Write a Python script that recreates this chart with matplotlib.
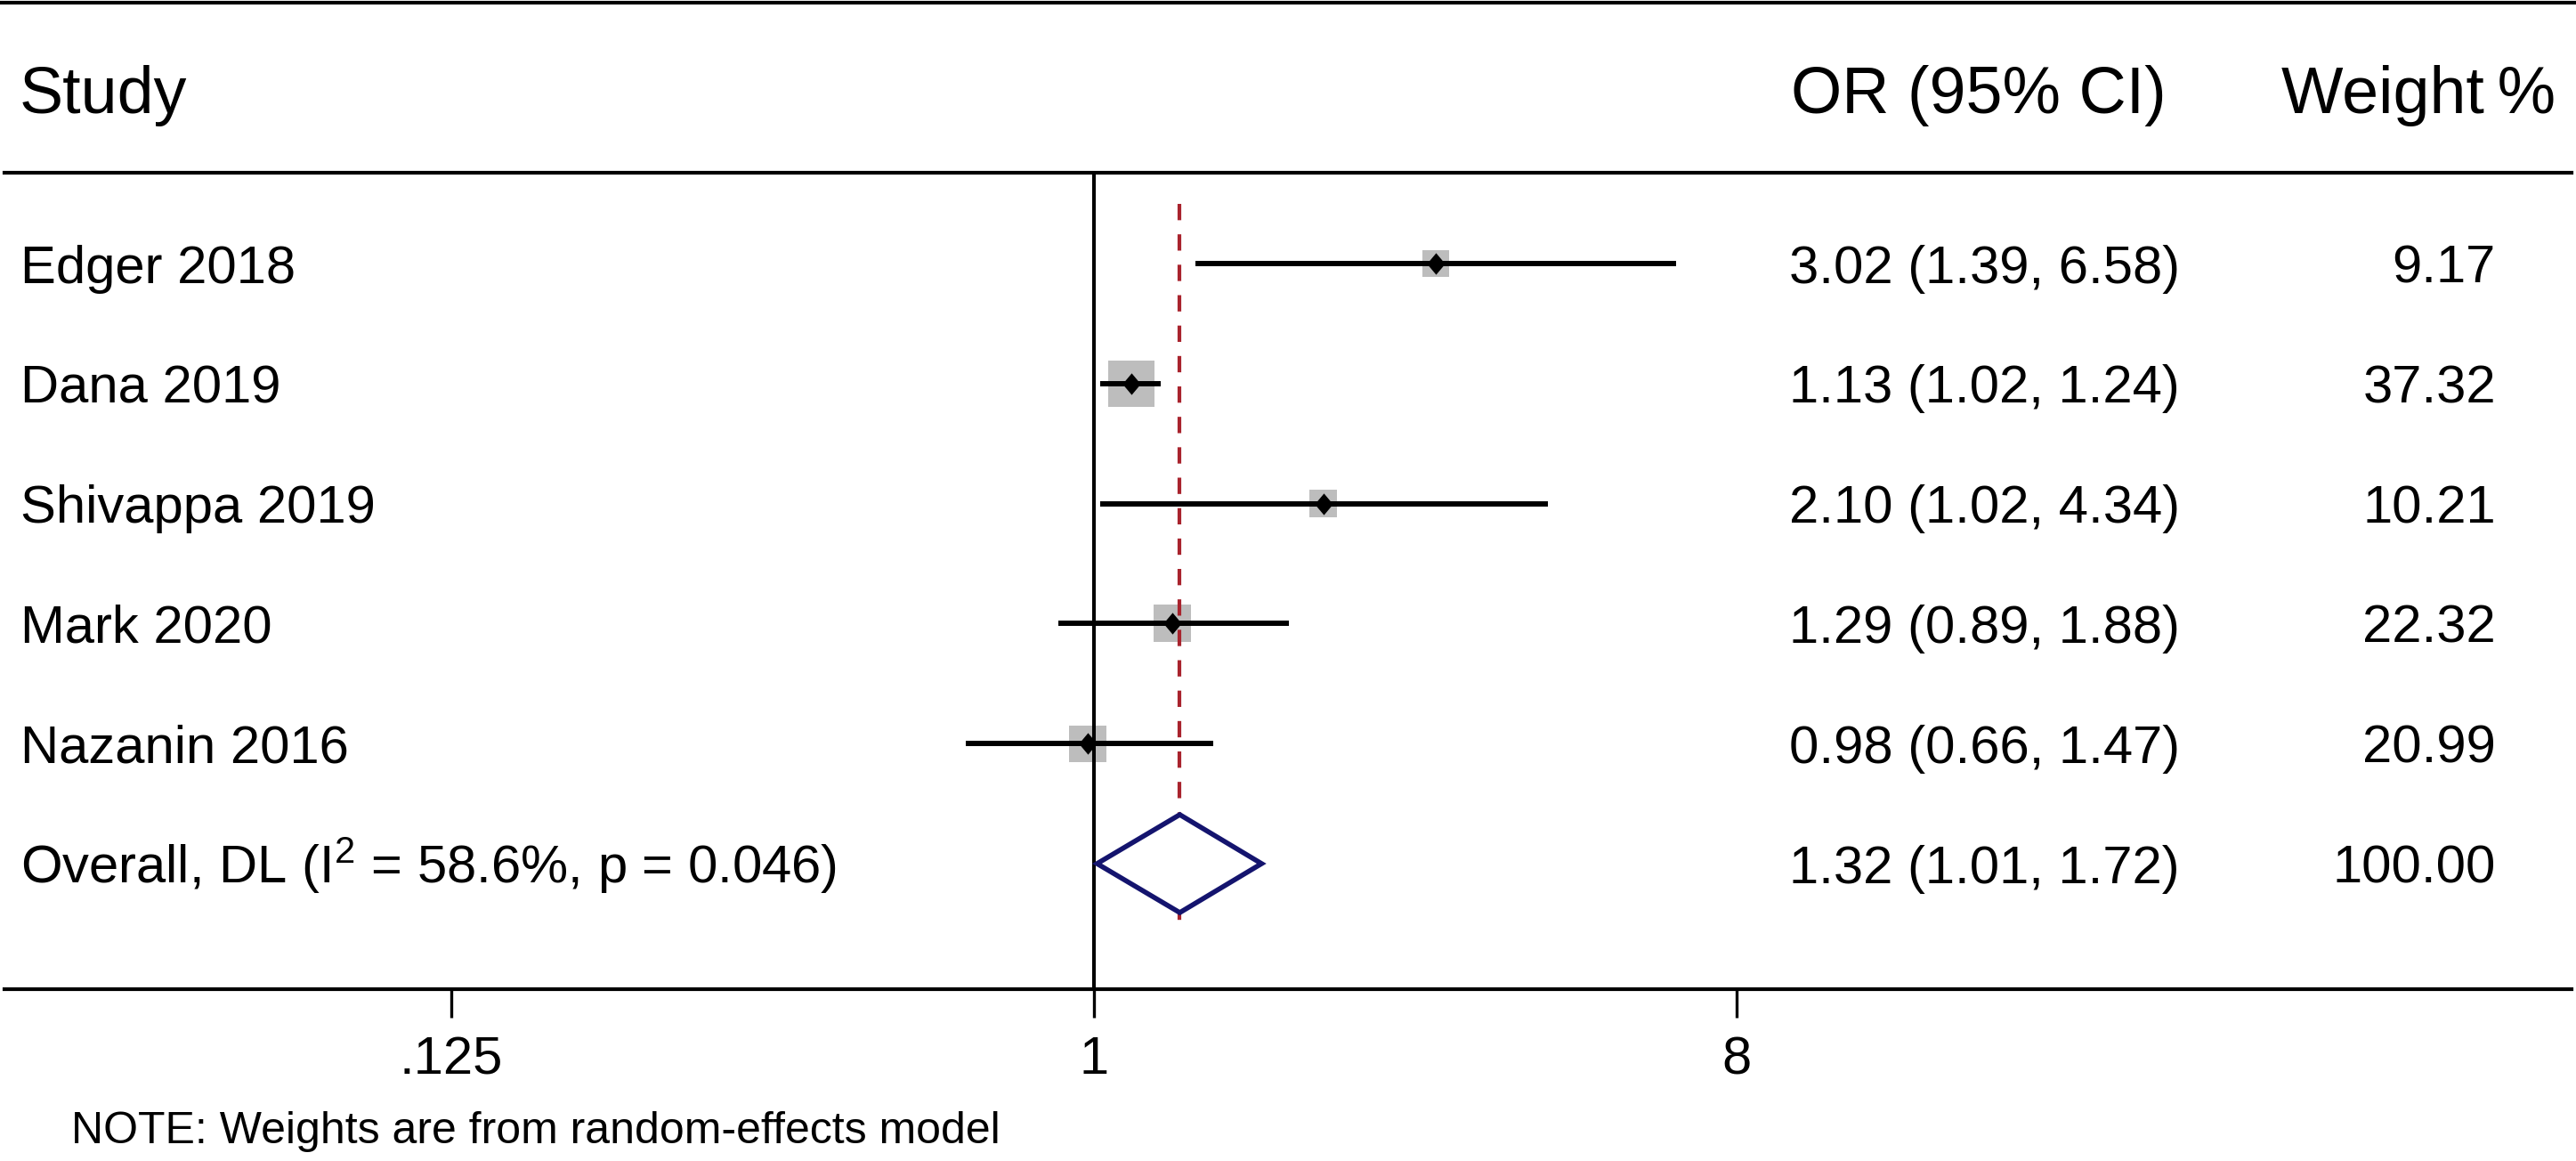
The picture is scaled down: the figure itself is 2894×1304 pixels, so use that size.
import numpy as np
import matplotlib.pyplot as plt
import matplotlib.transforms as mtransforms
from matplotlib.lines import Line2D
from matplotlib.ticker import NullLocator

plt.rcParams['font.family'] = ['Liberation Sans', 'DejaVu Sans']
plt.rcParams['mathtext.fontset'] = 'custom'
plt.rcParams['mathtext.rm'] = 'Liberation Sans'
plt.rcParams['mathtext.default'] = 'regular'

# data
studies = ["Edger 2018", "Dana 2019", "Shivappa 2019", "Mark 2020", "Nazanin 2016"]
odds = [3.02, 1.13, 2.10, 1.29, 0.98]
ci_low = [1.39, 1.02, 1.02, 0.89, 0.66]
ci_high = [6.58, 1.24, 4.34, 1.88, 1.47]
weights = [9.17, 37.32, 10.21, 22.32, 20.99]

overall_label = r"Overall, DL (I$^2$ = 58.6%, p = 0.046)"
overall = 1.32
overall_low = 1.01
overall_high = 1.72
overall_weight = 100.00

tick_values = [0.125, 1, 8]
tick_labels = [".125", "1", "8"]
note = "NOTE: Weights are from random-effects model"

W, H = 2894, 1304
fig = plt.figure(figsize=(W / 100, H / 100), dpi=100)

# plot region in pixels; x=1 sits at 1229 px, 240.7 px per doubling
L, R = 5, 2889
top_px, bot_px = 194, 1111
ax = fig.add_axes([L / W, 1 - bot_px / H, (R - L) / W, (bot_px - top_px) / H])
ax.set_xscale('log', base=2)
ax.set_xlim(2 ** ((L - 1229) / 240.7), 2 ** ((R - 1229) / 240.7))
row_h = 134.8
ax.set_ylim((bot_px - 296) / row_h, (top_px - 296) / row_h)

rows = np.arange(len(studies))
n_over = len(studies)

# weight boxes
side_px = 8.4 + 7.14 * np.sqrt(np.array(weights))
ax.scatter(odds, rows, marker='s', s=(side_px * 0.72) ** 2, color='#bdbdbd',
           linewidths=0, zorder=1)

ax.axvline(1, color='black', lw=2.9, zorder=2)
ax.plot([overall, overall], [-0.5, n_over + 0.5], color='#a8232d', lw=3.0,
        ls=(0, (4.4, 3.8)), zorder=2)

ax.hlines(rows, ci_low, ci_high, color='black', lw=4.3, zorder=3)
diamond = [(-0.42, 0), (0, 0.5), (0.42, 0), (0, -0.5)]
ax.plot(odds, rows, ls='none', marker=diamond, markersize=17.5,
        color='black', markeredgewidth=0, zorder=4)

# pooled estimate diamond
dh = 0.408
ax.fill([overall_low, overall, overall_high, overall],
        [n_over, n_over - dh, n_over, n_over + dh],
        facecolor='white', edgecolor='#14146e', lw=4.0, zorder=4)

# axes styling
for side in ['left', 'right']:
    ax.spines[side].set_visible(False)
for side in ['top', 'bottom']:
    ax.spines[side].set_linewidth(3.0)
ax.set_yticks([])
ax.set_xticks(tick_values)
ax.set_xticklabels(tick_labels)
ax.xaxis.set_minor_locator(NullLocator())
ax.tick_params(axis='x', direction='out', length=23, width=2.4, pad=14.5,
               labelsize=43)

fig.add_artist(Line2D([0, 1], [1 - 3 / H, 1 - 3 / H], color='black', lw=3.0,
                      transform=fig.transFigure))

# text columns
tr = mtransforms.blended_transform_factory(fig.transFigure, ax.transData)
row_tr = mtransforms.offset_copy(tr, fig=fig, x=0, y=-21.5, units='dots')

labels = studies + [overall_label]
or_text = [f"{o:.2f} ({lo:.2f}, {hi:.2f})" for o, lo, hi in zip(odds, ci_low, ci_high)]
or_text.append(f"{overall:.2f} ({overall_low:.2f}, {overall_high:.2f})")
w_text = [f"{w:.2f}" for w in weights] + [f"{overall_weight:.2f}"]

for i in range(len(labels)):
    ax.text(23 / W, i, labels[i], transform=row_tr, fontsize=43, va='baseline')
    ax.text(2010 / W, i, or_text[i], transform=row_tr, fontsize=43, va='baseline')
    ax.text(2804 / W, i, w_text[i], transform=row_tr, fontsize=43,
            va='baseline', ha='right')

hy = 1 - 127 / H
fig.text(22 / W, hy, "Study", fontsize=53, va='baseline')
fig.text(2012 / W, hy, "OR (95% CI)", fontsize=53, va='baseline')
fig.text(2871 / W, hy, "Weight\u2009%", fontsize=53, va='baseline', ha='right')

fig.text(80 / W, 1 - 1284 / H, note, fontsize=36, va='baseline')

fig.savefig('out.png', dpi=100, facecolor='white')
